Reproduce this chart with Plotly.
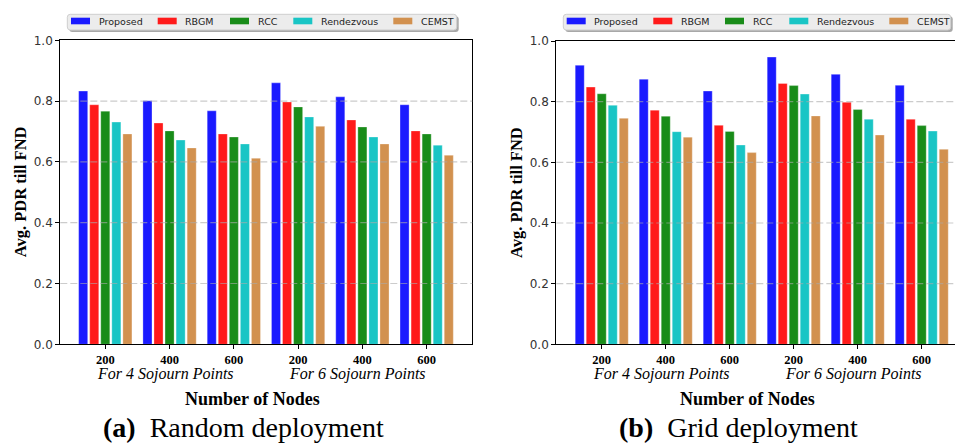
import plotly.graph_objects as go

W, H = 955, 444

series_names = ["Proposed", "RBGM", "RCC", "Rendezvous", "CEMST"]
series_colors = ["#1a1aff", "#ff1a1a", "#198c19", "#19c5c5", "#d2914f"]
tick_labels = ["200", "400", "600", "200", "400", "600"]
group_labels = ["For 4 Sojourn Points", "For 6 Sojourn Points"]

# (a) Random deployment
random_proposed = [0.833, 0.801, 0.768, 0.860, 0.814, 0.788]
random_rbgm = [0.788, 0.728, 0.692, 0.797, 0.738, 0.702]
random_rcc = [0.767, 0.702, 0.682, 0.781, 0.715, 0.692]
random_rendezvous = [0.731, 0.672, 0.659, 0.748, 0.682, 0.655]
random_cemst = [0.692, 0.646, 0.612, 0.717, 0.659, 0.622]

# (b) Grid deployment
grid_proposed = [0.920, 0.874, 0.835, 0.947, 0.890, 0.854]
grid_rbgm = [0.848, 0.772, 0.722, 0.860, 0.798, 0.742]
grid_rcc = [0.826, 0.752, 0.702, 0.853, 0.774, 0.721]
grid_rendezvous = [0.788, 0.701, 0.657, 0.825, 0.742, 0.703]
grid_cemst = [0.745, 0.683, 0.632, 0.753, 0.690, 0.643]

y_ticks = [0.0, 0.2, 0.4, 0.6, 0.8, 1.0]
grid_levels = [0.2, 0.4, 0.6, 0.8]

random_data = [random_proposed, random_rbgm, random_rcc, random_rendezvous, random_cemst]
grid_data = [grid_proposed, grid_rbgm, grid_rcc, grid_rendezvous, grid_cemst]

def X(px):
    return px / W

def Y(py):
    return 1 - py / H

xpos = list(range(len(tick_labels)))

fig = go.Figure()
for name, color, vals in zip(series_names, series_colors, random_data):
    fig.add_trace(go.Bar(x=xpos, y=vals, name=name, marker=dict(color=color, line=dict(color="rgba(255,255,255,0.5)", width=0.6)),
                         xaxis="x", yaxis="y", showlegend=False, offsetgroup=name))
for name, color, vals in zip(series_names, series_colors, grid_data):
    fig.add_trace(go.Bar(x=xpos, y=vals, name=name, marker=dict(color=color, line=dict(color="rgba(255,255,255,0.5)", width=0.6)),
                         xaxis="x2", yaxis="y2", showlegend=False, offsetgroup=name))

serif = "Liberation Serif"
sans = "DejaVu Sans"

xcommon = dict(tickvals=xpos, ticktext=tick_labels, showline=True, linecolor="black", linewidth=1.2,
               ticks="outside", ticklen=3.5, tickcolor="black", tickwidth=1,
               tickfont=dict(family=serif, size=12.5, color="black", weight="bold"), showgrid=False, zeroline=False)
ycommon = dict(range=[0, 1.0], tickvals=y_ticks, ticktext=[f"{v:.1f}" for v in y_ticks], showline=True,
               linecolor="black", linewidth=1.2, ticks="outside", ticklen=4, tickcolor="black", tickwidth=1,
               tickfont=dict(family=sans, size=12, color="#333333"), showgrid=False, zeroline=False)

fig.update_layout(
    width=W, height=H, margin=dict(l=0, r=0, t=0, b=0, autoexpand=False),
    paper_bgcolor="white", plot_bgcolor="white",
    barmode="group", bargap=0.14, bargroupgap=0.18,
    xaxis=dict(domain=[X(60.3), X(472.3)], range=[-0.70, 5.71], mirror=True, anchor="y", **xcommon),
    yaxis=dict(domain=[Y(344.3), Y(40.3)], mirror=True, anchor="x", **ycommon),
    xaxis2=dict(domain=[X(556.3), 1.0], range=[-0.71, 5.52], mirror=True, anchor="y2", **xcommon),
    yaxis2=dict(domain=[Y(344.3), Y(41)], anchor="x2", **ycommon),
)

shapes = []
annotations = []

# dashed gridlines drawn over bars
for xr, yr in [("x domain", "y"), ("x2 domain", "y2")]:
    for g in grid_levels:
        shapes.append(dict(type="line", xref=xr, yref=yr, x0=0, x1=1, y0=g, y1=g, layer="above",
                           line=dict(color="rgba(170,170,170,0.6)", width=1.2, dash="7px,3px")))

# manual legends
def rounded_box(x0, y0, x1, y1, r=3):
    return (f"M{X(x0+r)},{Y(y0)} L{X(x1-r)},{Y(y0)} Q{X(x1)},{Y(y0)} {X(x1)},{Y(y0+r)} "
            f"L{X(x1)},{Y(y1-r)} Q{X(x1)},{Y(y1)} {X(x1-r)},{Y(y1)} L{X(x0+r)},{Y(y1)} "
            f"Q{X(x0)},{Y(y1)} {X(x0)},{Y(y1-r)} L{X(x0)},{Y(y0+r)} Q{X(x0)},{Y(y0)} {X(x0+r)},{Y(y0)} Z")

legend_specs = [
    dict(box=(67.3, 14.3, 456.7, 30.0), patches=[71, 157.7, 230, 293.3, 393.3]),
    dict(box=(563.3, 14.3, 950.7, 30.0), patches=[566.7, 653.3, 725, 789.3, 889.3]),
]
for spec in legend_specs:
    bx0, by0, bx1, by1 = spec["box"]
    shapes.append(dict(type="path", xref="paper", yref="paper", path=rounded_box(bx0 + 2, by0 + 2, bx1 + 2, by1 + 2),
                       fillcolor="#a8a8a8", line=dict(width=0), layer="above"))
    shapes.append(dict(type="path", xref="paper", yref="paper", path=rounded_box(bx0, by0, bx1, by1),
                       fillcolor="#ececec", line=dict(color="#cfcfcf", width=1), layer="above"))
    for name, color, px in zip(series_names, series_colors, spec["patches"]):
        shapes.append(dict(type="rect", xref="paper", yref="paper", x0=X(px), x1=X(px + 19), y0=Y(24.3), y1=Y(17.7),
                           fillcolor=color, line=dict(width=0), layer="above"))
        annotations.append(dict(xref="paper", yref="paper", x=X(px + 25.5), y=Y(21.5), text=name, showarrow=False,
                                xanchor="left", yanchor="middle", font=dict(family=sans, size=9.5, color="#222222")))

# group labels, axis titles and captions
for xr in ["x", "x2"]:
    for c, lab in zip([1, 4], group_labels):
        annotations.append(dict(xref=xr, yref="paper", x=c - 0.07, y=Y(374), text=f"<i>{lab}</i>", showarrow=False,
                                xanchor="center", yanchor="middle", font=dict(family=serif, size=16, color="black")))

for xc in [252, 747.5]:
    annotations.append(dict(xref="paper", yref="paper", x=X(xc), y=Y(399), text="<b>Number of Nodes</b>", showarrow=False,
                            xanchor="center", yanchor="middle", font=dict(family=serif, size=18, color="black")))

for xc in [20, 516.7]:
    annotations.append(dict(xref="paper", yref="paper", x=X(xc), y=Y(192.3), text="<b>Avg. PDR till FND</b>", showarrow=False,
                            textangle=-90, xanchor="center", yanchor="middle", font=dict(family=serif, size=16.5, color="black")))

captions = [("(a)", "Random deployment", 243), ("(b)", "Grid deployment", 738)]
for tag, txt, xc in captions:
    annotations.append(dict(xref="paper", yref="paper", x=X(xc), y=Y(427.5), text=f"<b>{tag}</b>\u00a0\u00a0{txt}", showarrow=False,
                            xanchor="center", yanchor="middle", font=dict(family=serif, size=28, color="black")))

fig.update_layout(shapes=shapes, annotations=annotations)
fig.write_html("out.html", config={"displayModeBar": False},
               post_script="document.body.style.margin='0';document.body.style.padding='0';")
